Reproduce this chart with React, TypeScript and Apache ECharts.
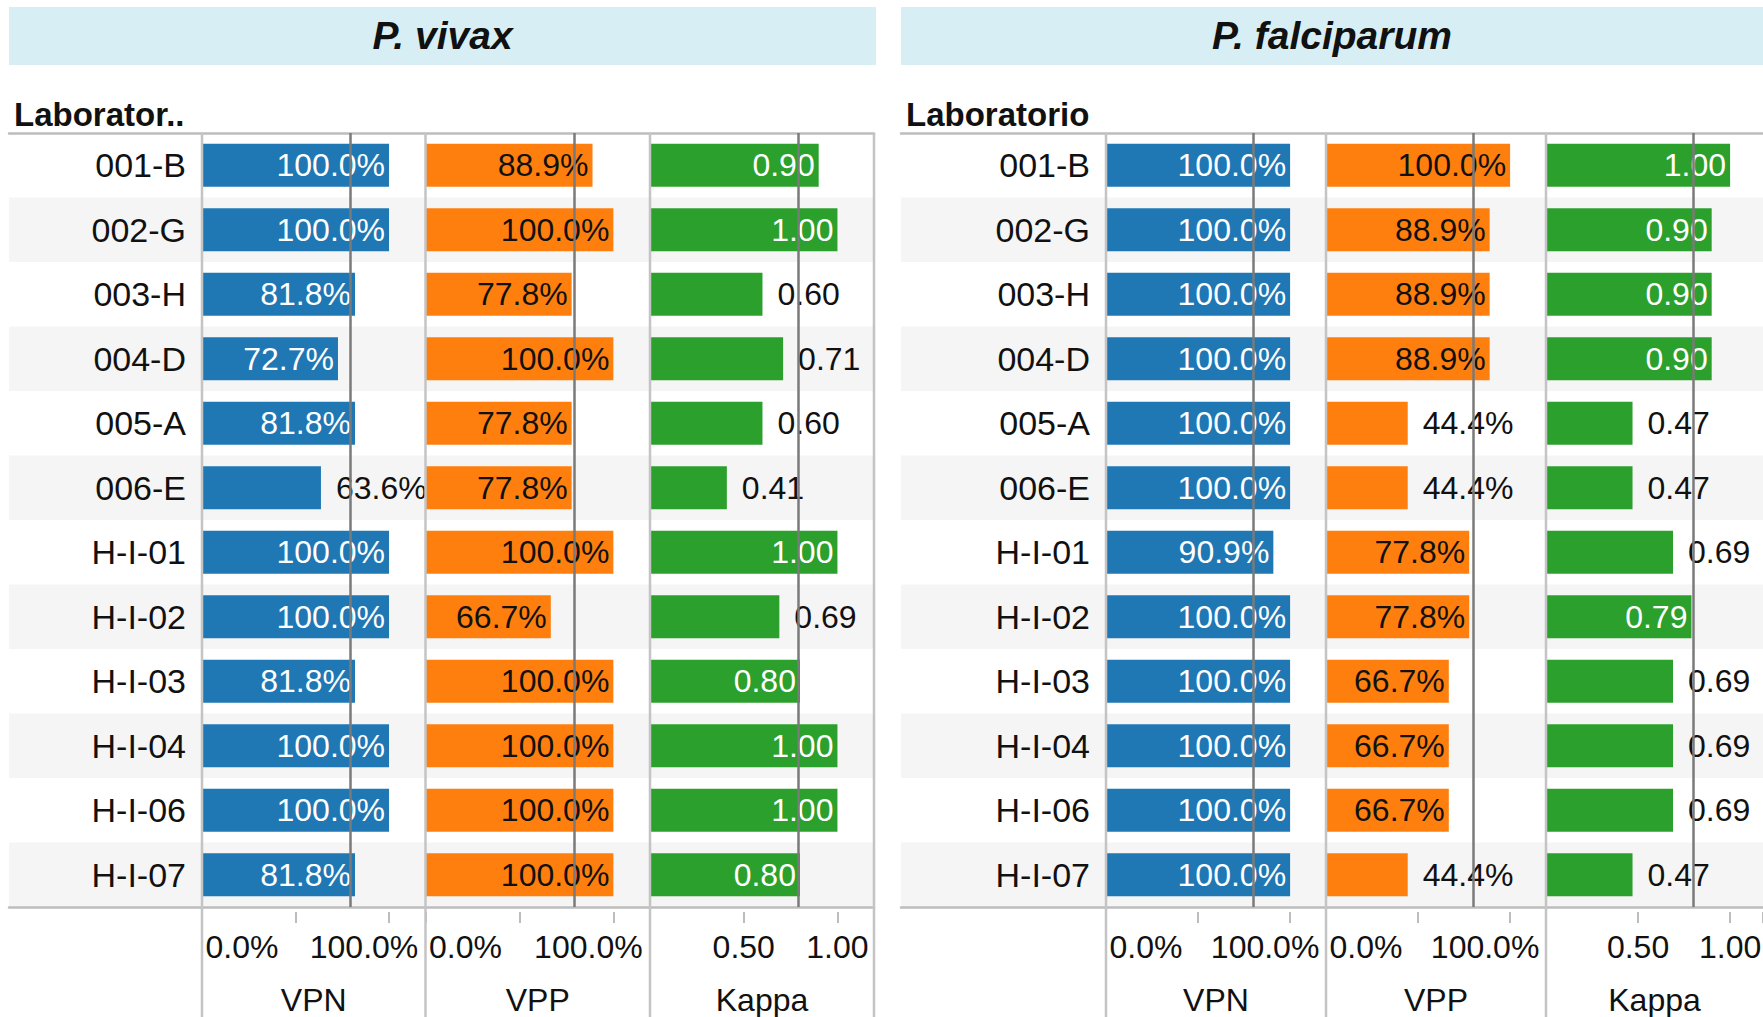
import React, { useEffect, useRef } from "react";
import * as echarts from "echarts";

const CATEGORIES = ["001-B", "002-G", "003-H", "004-D", "005-A", "006-E", "H-I-01", "H-I-02", "H-I-03", "H-I-04", "H-I-06", "H-I-07"];
const MEASURES = ["VPN", "VPP", "Kappa"];
const PANEL_TITLES = ["P. vivax", "P. falciparum"];
const ROW_HEADERS = ["Laborator..", "Laboratorio"];

const VIVAX_VPN = [1.0, 1.0, 0.818, 0.727, 0.818, 0.636, 1.0, 1.0, 0.818, 1.0, 1.0, 0.818];
const VIVAX_VPP = [0.889, 1.0, 0.778, 1.0, 0.778, 0.778, 1.0, 0.667, 1.0, 1.0, 1.0, 1.0];
const VIVAX_KAPPA = [0.9, 1.0, 0.6, 0.71, 0.6, 0.41, 1.0, 0.69, 0.8, 1.0, 1.0, 0.8];

const FALC_VPN = [1.0, 1.0, 1.0, 1.0, 1.0, 1.0, 0.909, 1.0, 1.0, 1.0, 1.0, 1.0];
const FALC_VPP = [1.0, 0.889, 0.889, 0.889, 0.444, 0.444, 0.778, 0.778, 0.667, 0.667, 0.667, 0.444];
const FALC_KAPPA = [1.0, 0.9, 0.9, 0.9, 0.47, 0.47, 0.69, 0.79, 0.69, 0.69, 0.69, 0.47];

const REFERENCE_VALUES = [0.788, 0.8];
const INSIDE_THRESHOLDS = [0.7, 0.6, 0.75];
const PCT_TICK_LABELS = ["0.0%", "", "100.0%"];
const KAPPA_TICK_LABELS = ["", "0.50", "1.00"];
const AXIS_MAX = 1.195;

const COLORS = ["#1f77b4", "#ff7f0e", "#2ca02c"];
const INSIDE_LABEL_COLORS = ["#ffffff", "#111111", "#ffffff"];
const FONT = "'Liberation Sans', Arial, sans-serif";
const FS = 32;
const FS_ROW = 34;

const W = 1763;
const H = 1017;
const TOP = 133;
const BOTTOM = 907;

const PANELS = [
  { band: [9, 876], edges: [202, 425.5, 650, 874], bgRight: 874, data: [VIVAX_VPN, VIVAX_VPP, VIVAX_KAPPA] },
  { band: [901, 1763], edges: [1106, 1326, 1546, 1766], bgRight: 1763, data: [FALC_VPN, FALC_VPP, FALC_KAPPA] },
];

function buildOption() {
  const grid: any[] = [];
  const xAxis: any[] = [];
  const yAxis: any[] = [];
  const series: any[] = [];
  const graphic: any[] = [];

  PANELS.forEach((p, pi) => {
    const bgGrid = grid.length;
    grid.push({ left: p.band[0], top: TOP, width: p.bgRight - p.band[0], height: BOTTOM - TOP, outerBoundsMode: "none", containLabel: false });
    xAxis.push({
      gridIndex: bgGrid, type: "value", min: 0, max: 1, position: "bottom",
      axisLine: { show: true, lineStyle: { color: "#bdbdbd", width: 2.5 } },
      axisTick: { show: false }, axisLabel: { show: false }, splitLine: { show: false },
    });
    xAxis.push({
      gridIndex: bgGrid, type: "value", min: 0, max: 1, position: "top",
      axisLine: { show: true, lineStyle: { color: "#bdbdbd", width: 2.5 } },
      axisTick: { show: false }, axisLabel: { show: false }, splitLine: { show: false },
    });
    yAxis.push({
      gridIndex: bgGrid, type: "category", data: CATEGORIES, inverse: true,
      axisLine: { show: false }, axisTick: { show: false }, axisLabel: { show: false },
      splitLine: { show: false },
      splitArea: { show: true, areaStyle: { color: ["#ffffff", "#f5f5f5"] } },
    });

    MEASURES.forEach((m, mi) => {
      const gi = grid.length;
      const left = p.edges[mi];
      const fullWidth = p.edges[mi + 1] - p.edges[mi];
      const width = Math.min(fullWidth, W - left);
      const axisMax = AXIS_MAX * (width / fullWidth);
      grid.push({ left, top: TOP, width, height: BOTTOM - TOP, outerBoundsMode: "none", containLabel: false });
      const isKappa = mi === 2;
      const xi = xAxis.length;
      xAxis.push({
        gridIndex: gi, type: "value", min: 0, max: axisMax, interval: 0.5, offset: 5,
        axisLine: { show: false },
        axisTick: { show: true, length: 11, lineStyle: { color: "#bdbdbd", width: 2 } },
        splitLine: { show: false },
        axisLabel: {
          margin: 19,
          formatter: (v: number) => {
            const idx = Math.round(v / 0.5);
            if (Math.abs(v - idx * 0.5) > 1e-6 || idx > 2) return "";
            const lbl = isKappa ? KAPPA_TICK_LABELS[idx] : PCT_TICK_LABELS[idx];
            if (!lbl) return "";
            if (isKappa) return "{c|" + lbl + "}";
            return idx === 0 ? "{lo|" + lbl + "}" : "{hi|" + lbl + "}";
          },
          rich: {
            lo: { fontSize: FS, fontFamily: FONT, color: "#111", padding: [0, 0, 0, 80] },
            hi: { fontSize: FS, fontFamily: FONT, color: "#111", padding: [0, 50, 0, 0] },
            c: { fontSize: FS, fontFamily: FONT, color: "#111" },
          },
        },
        name: m, nameLocation: "middle", nameGap: 72,
        nameTextStyle: { fontSize: FS, fontFamily: FONT, color: "#111" },
      });
      const yi = yAxis.length;
      yAxis.push({
        gridIndex: gi, type: "category", data: CATEGORIES, inverse: true,
        axisLine: { show: false }, axisTick: { show: false }, splitLine: { show: false },
        axisLabel: mi === 0
          ? { show: true, margin: 16, fontSize: FS_ROW, fontFamily: FONT, color: "#111" }
          : { show: false },
      });
      const values = p.data[mi];
      series.push({
        type: "bar", xAxisIndex: xi, yAxisIndex: yi, barWidth: 43,
        itemStyle: { color: COLORS[mi] },
        label: {
          show: true, fontSize: FS, fontFamily: FONT,
          formatter: (pp: any) => (isKappa ? pp.value.toFixed(2) : (pp.value * 100).toFixed(1) + "%"),
        },
        data: values.map((v) => {
          const inside = v >= INSIDE_THRESHOLDS[mi];
          return {
            value: v,
            label: inside
              ? { position: "insideRight", distance: 4, color: INSIDE_LABEL_COLORS[mi] }
              : { position: "right", distance: 15, color: "#111" },
          };
        }),
        markLine: {
          silent: true, symbol: ["none", "none"], label: { show: false },
          lineStyle: { color: "#7a7a7a", width: 2.5, type: "solid" },
          data: [{ xAxis: REFERENCE_VALUES[pi] }],
        },
      });
    });

    graphic.push({
      type: "rect", z: 1,
      shape: { x: p.band[0], y: 7, width: p.band[1] - p.band[0], height: 58 },
      style: { fill: "#d7eff4" },
    });
    graphic.push({
      type: "text", z: 2,
      x: (p.band[0] + p.band[1]) / 2, y: 35,
      style: {
        text: PANEL_TITLES[pi], fill: "#111", font: "italic bold 39px " + FONT,
        textAlign: "center", textVerticalAlign: "middle",
      },
    });
    graphic.push({
      type: "text", z: 2,
      x: p.band[0] + 5, y: 114,
      style: {
        text: ROW_HEADERS[pi], fill: "#111", font: "bold 33px " + FONT,
        textAlign: "left", textVerticalAlign: "middle",
      },
    });
    p.edges.forEach((x) => {
      graphic.push({
        type: "line", z: 50,
        shape: { x1: x, y1: TOP, x2: x, y2: H },
        style: { stroke: "#c4c4c4", lineWidth: 2.5 },
      });
    });
  });

  return {
    animation: false,
    backgroundColor: "#ffffff",
    grid, xAxis, yAxis, series, graphic,
  };
}

export default function App() {
  const ref = useRef<HTMLDivElement>(null);
  useEffect(() => {
    if (!ref.current) return;
    const chart = echarts.init(ref.current, undefined, { renderer: "svg" });
    chart.setOption(buildOption() as any);
    return () => chart.dispose();
  }, []);
  return <div ref={ref} style={{ position: "fixed", left: 0, top: 0, width: W, height: H }} />;
}
